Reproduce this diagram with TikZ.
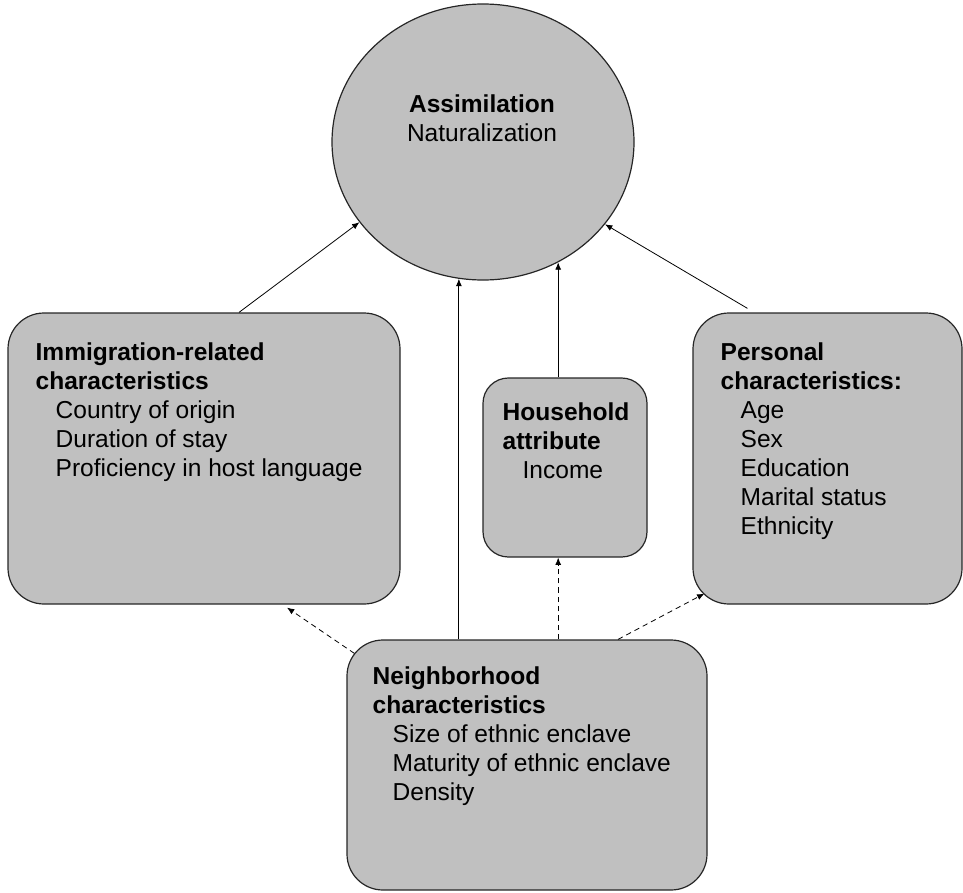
\documentclass[tikz,border=0pt]{standalone}
\usepackage{fontspec}
\setmainfont{Liberation Sans}
\usepackage{tikz}
\usetikzlibrary{arrows.meta, calc, shapes.geometric}
\definecolor{boxgray}{RGB}{192,192,192}
\newcommand{\ind}{\hspace*{15pt}}

\begin{document}
\begin{tikzpicture}[x=0.75pt, y=-0.75pt,
  box/.style={draw=black!85, line width=0.9pt, fill=boxgray, rounded corners=27pt, inner sep=0pt},
  oval/.style={ellipse, draw=black!85, line width=0.9pt, fill=boxgray, inner sep=0pt},
  txt/.style={anchor=north west, inner sep=0pt, align=left, font=\fontsize{18.4pt}{21.75pt}\selectfont},
  link/.style={-{Latex[length=5.5pt,width=4.5pt]}, line width=0.6pt},
  maybe/.style={link, dash pattern=on 4pt off 3pt}]
\useasboundingbox (0,0) rectangle (963,892);

% Outcome
\node[oval, minimum width=226.5pt, minimum height=207pt] (assim) at (483,142) {};
\node[txt, anchor=north, align=center] (assimtxt) at (482,94.5) {\textbf{Assimilation}\\Naturalization};

% Groups of factors
\node[box, minimum width=294pt, minimum height=218.25pt] (imm) at (204,458.5) {};
\node[box, rounded corners=19pt, minimum width=123pt, minimum height=134.25pt] (hh) at (565,467.5) {};
\node[box, minimum width=201.75pt, minimum height=218.25pt] (pers) at (827.5,458.5) {};
\node[box, minimum width=270pt, minimum height=187.5pt] (neigh) at (527,765) {};

\node[txt] (immtxt) at ($(imm.north west)+(28,30.5)$)
  {\textbf{Immigration-related}\\\textbf{characteristics}\\\ind Country of origin\\\ind Duration of stay\\\ind Proficiency in host language};
\node[txt] (hhtxt) at ($(hh.north west)+(20,25.5)$)
  {\textbf{Household}\\\textbf{attribute}\\\ind Income};
\node[txt] (perstxt) at ($(pers.north west)+(28,30.5)$)
  {\textbf{Personal}\\\textbf{characteristics:}\\\ind Age\\\ind Sex\\\ind Education\\\ind Marital status\\\ind Ethnicity};
\node[txt] (neightxt) at ($(neigh.north west)+(26,27)$)
  {\textbf{Neighborhood}\\\textbf{characteristics}\\\ind Size of ethnic enclave\\\ind Maturity of ethnic enclave\\\ind Density};

% Direct effects
\draw[link] ($(imm.north)+(35,0)$) -- (assim.213);
\draw[link] (assim.260 |- neigh.north) -- (assim.260);
\draw[link] (assim.302 |- hh.north) -- (assim.302);
\draw[link] ($(pers.north)+(-80,-4)$) -- (assim.326);

% Neighborhood effects
\draw[maybe] ($(neigh.north west)+(8,14)$) -- ($(imm.south)+(83,3)$);
\draw[maybe] (assim.302 |- neigh.north) -- (assim.302 |- hh.south);
\draw[maybe] ($(neigh.north)+(91,0)$) -- ($(pers.south west)+(12,-11)$);

\end{tikzpicture}
\end{document}
